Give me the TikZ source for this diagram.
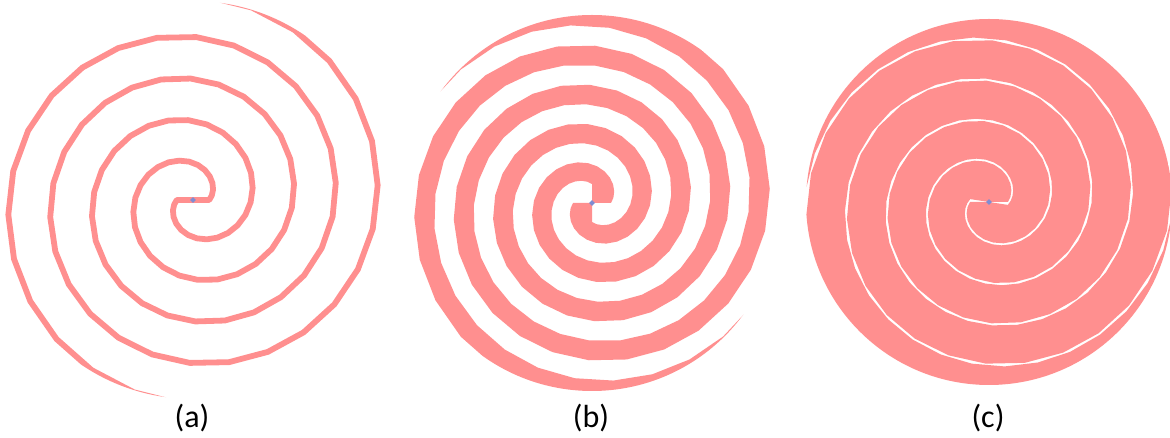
\documentclass[tikz,border=0pt]{standalone}
\usepackage{fontspec}
\setmainfont{Carlito}
\definecolor{spiralpink}{RGB}{255,143,143}
\definecolor{dotblue}{RGB}{128,140,210}
\tikzset{
  band/.style={fill=spiralpink},
  thinarm/.style={draw=spiralpink, line width=5.8pt, line join=round},
  centredot/.style={fill=dotblue},
  caption/.style={font=\fontsize{32}{38}\selectfont, anchor=base, inner sep=0pt}
}
% #1 r0, #2 b, #3 alpha (rad), #4 rotation (deg), #5 end angle (rad)
\newcommand\spiralband[5]{%
  \fill[band,rotate=#4] (0,0) -- (#1,0)
    -- plot[domain=0:#5,samples=80] ({(#1+#2*\x)*cos(deg(\x))},{(#1+#2*\x)*sin(deg(\x))})
    -- plot[domain=#5-#3:0,samples=80] ({(#1+#2*\x)*cos(deg(\x+#3))},{(#1+#2*\x)*sin(deg(\x+#3))})
    -- cycle;}
% stroked thin arm: #1 r0, #2 b, #3 rotation, #4 end angle
\newcommand\spiralline[4]{%
  \draw[thinarm,rotate=#3] (0,0) -- (#1,0)
    -- plot[domain=0:#4,samples=80] ({(#1+#2*\x)*cos(deg(\x))},{(#1+#2*\x)*sin(deg(\x))});}
\newcommand\centremark{\fill[centredot] (0,2.8) -- (2.8,0) -- (0,-2.8) -- (-2.8,0) -- cycle;}
\newcommand\doublespiral[6]{% #1 centre name, #2 r0, #3 b, #4 alpha, #5 clip radius, #6 end angle
  \begin{scope}[shift={(#1)}]
    \clip (0,0) circle[radius=#5];
    \spiralband{#2}{#3}{#4}{0}{#6}
    \spiralband{#2}{#3}{#4}{180}{#6}
    \centremark
  \end{scope}}
\begin{document}
\begin{tikzpicture}[x=1pt,y=1pt]
  \useasboundingbox (0,0) rectangle (1170,438);
  \coordinate (ca) at (193,238);
  \coordinate (cb) at (592,235);
  \coordinate (cc) at (989,236);
  \begin{scope}[shift={(ca)}]
    \clip (0,0) circle[radius=199];
    \spiralline{16.2}{13.37}{0}{18.85}
    \spiralline{16.2}{13.37}{180}{18.85}
    \centremark
  \end{scope}
  \doublespiral{cb}{19}{12.6}{1.5708}{188}{18.85}
  \doublespiral{cc}{19}{13.0}{2.988}{183}{18.85}
  \node[caption] (la) at (192,10) {(a)};
  \node[caption] (lb) at (591,10) {(b)};
  \node[caption] (lc) at (988,10) {(c)};
\end{tikzpicture}
\end{document}
